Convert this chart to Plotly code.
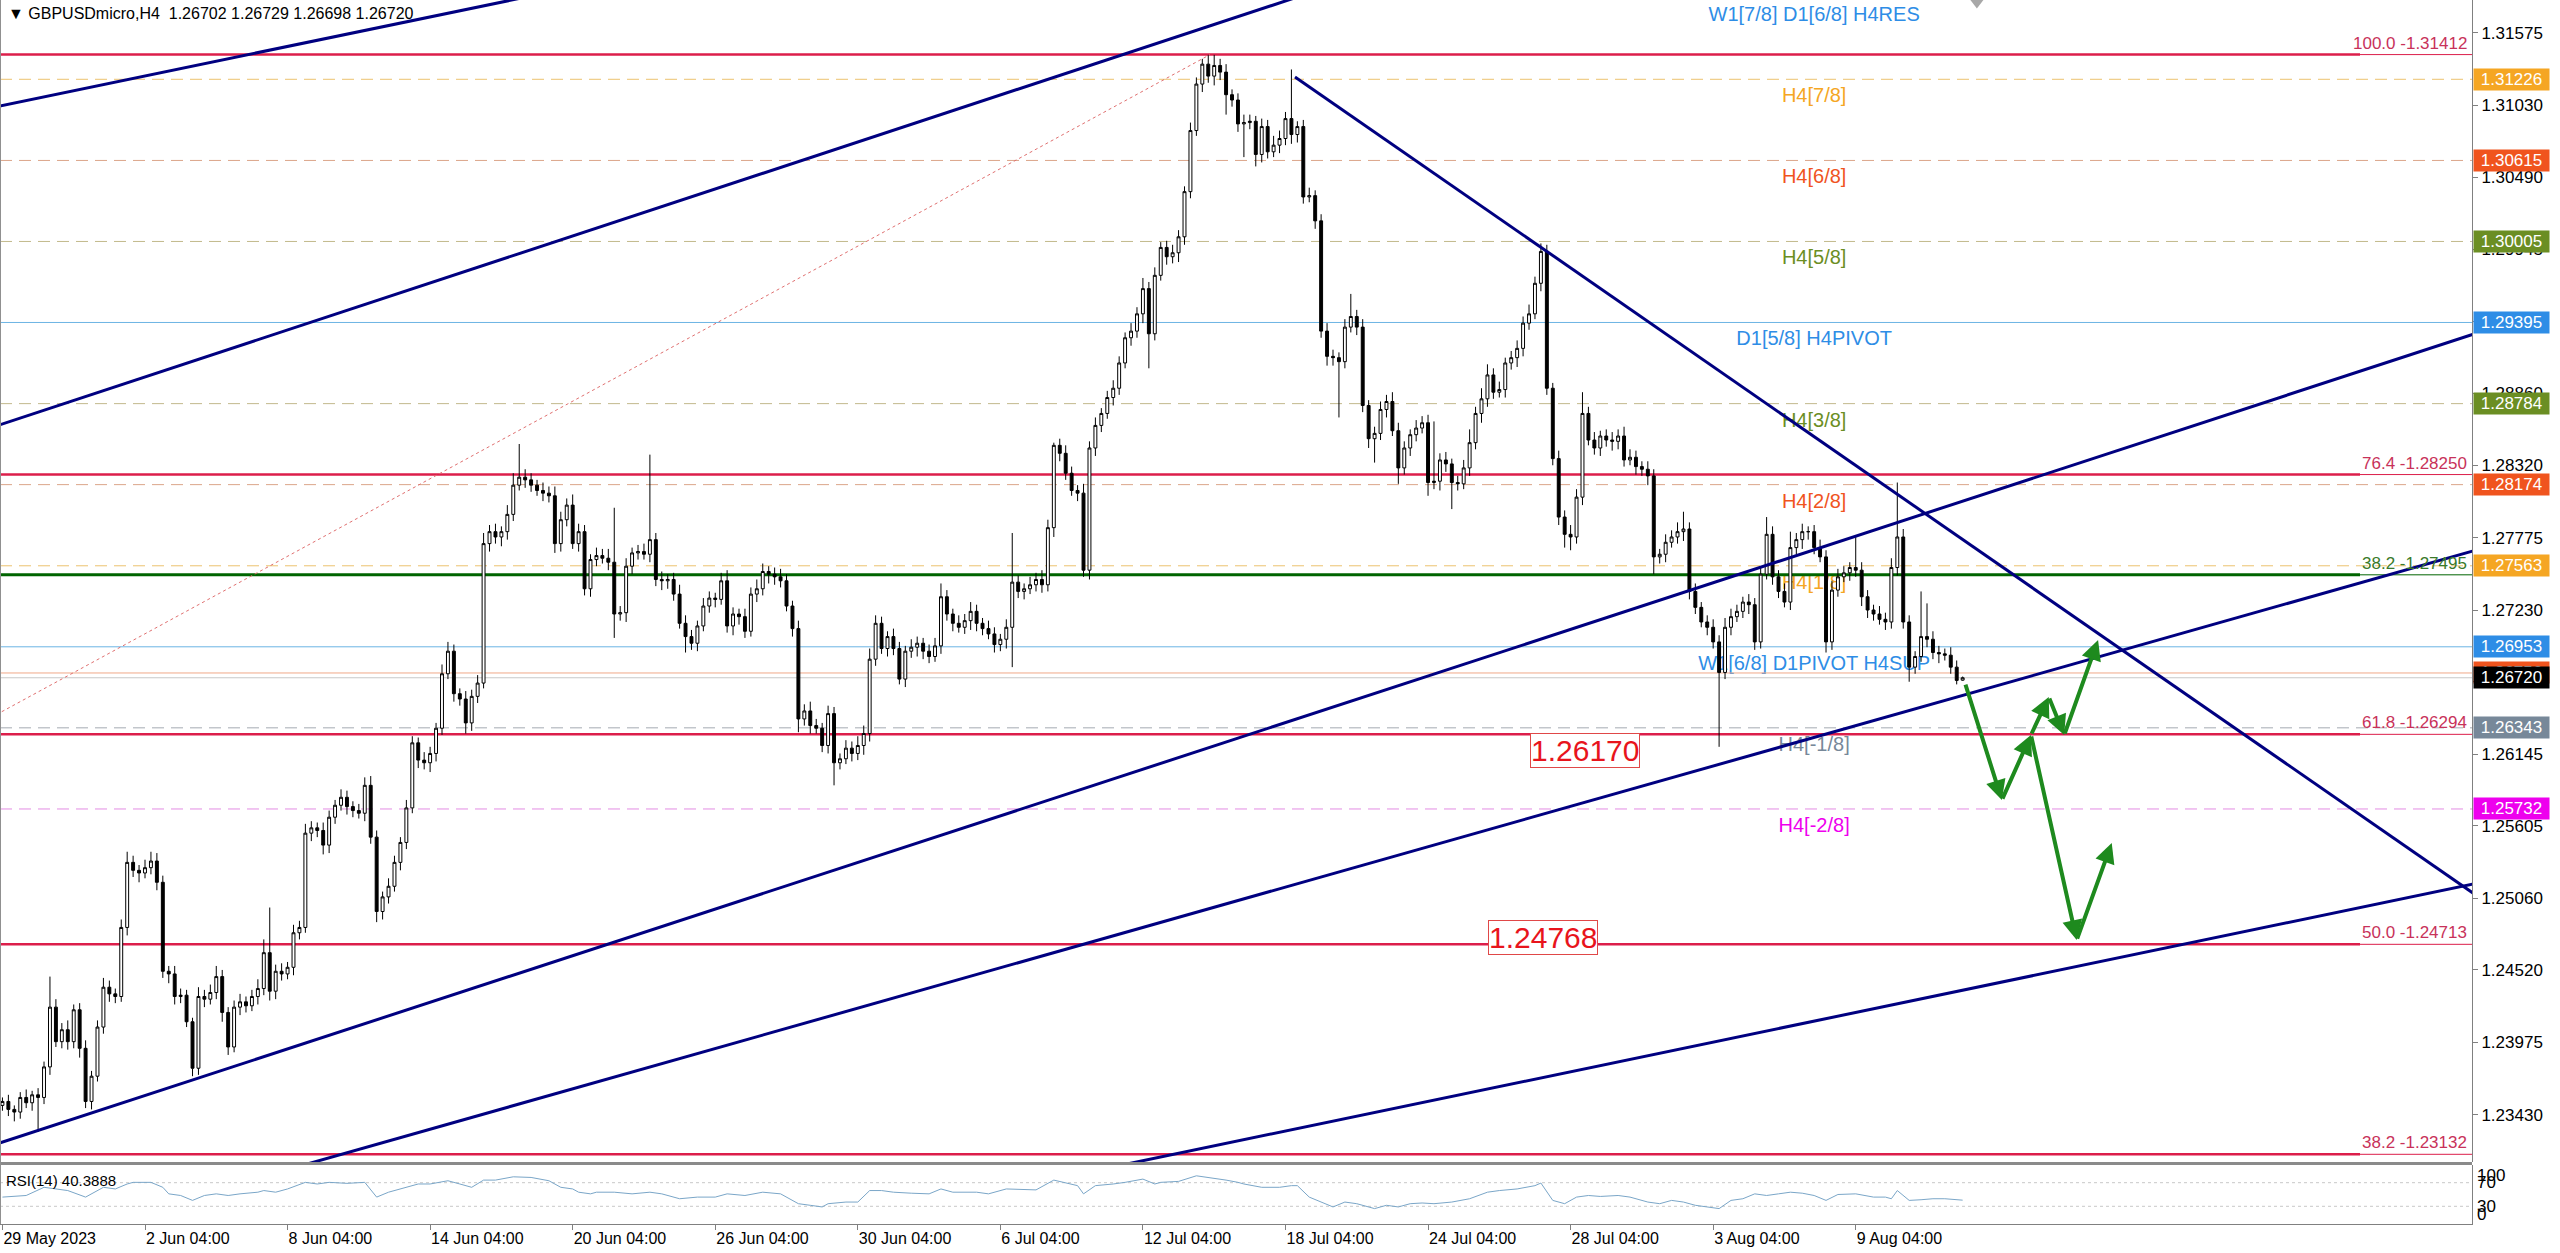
import plotly.graph_objects as go

FONT = "Liberation Sans, Arial, sans-serif"

# GBPUSDmicro H4, bar 0 = 29 May 2023 00:00; closes in pips (price * 10000)
first_open = 12345
close_pips = [
    12350, 12353, 12347, 12345, 12356, 12352, 12358, 12356, 12379, 12424, 12398, 12407, 12398, 12422, 12393, 12353, 12372, 12409, 12439, 12434,
    12432, 12484, 12533, 12527, 12525, 12529, 12534, 12518, 12451, 12449, 12432, 12433, 12413, 12378, 12432, 12430, 12435, 12447, 12420, 12394,
    12424, 12428, 12425, 12432, 12438, 12465, 12436, 12451, 12449, 12454, 12480, 12484, 12555, 12559, 12557, 12546, 12567, 12576, 12582, 12575,
    12572, 12570, 12591, 12552, 12496, 12507, 12515, 12533, 12548, 12574, 12623, 12610, 12608, 12615, 12634, 12675, 12692, 12660, 12656, 12638,
    12658, 12668, 12773, 12782, 12778, 12782, 12795, 12817, 12823, 12821, 12817, 12813, 12811, 12809, 12773, 12791, 12802, 12773, 12782, 12739,
    12761, 12764, 12762, 12759, 12720, 12721, 12756, 12766, 12767, 12765, 12776, 12746, 12745, 12746, 12735, 12713, 12703, 12698, 12711, 12726,
    12732, 12731, 12745, 12711, 12720, 12718, 12707, 12735, 12739, 12752, 12750, 12748, 12745, 12726, 12709, 12641, 12647, 12636, 12634, 12621,
    12645, 12608, 12611, 12619, 12615, 12621, 12630, 12686, 12713, 12694, 12703, 12694, 12671, 12692, 12695, 12698, 12692, 12688, 12696, 12733,
    12720, 12713, 12710, 12715, 12722, 12713, 12709, 12705, 12697, 12701, 12710, 12744, 12737, 12739, 12742, 12746, 12742, 12785, 12847, 12841,
    12826, 12813, 12811, 12753, 12845, 12862, 12871, 12883, 12890, 12909, 12928, 12933, 12946, 12965, 12931, 12975, 12996, 12989, 12992, 13004,
    13038, 13084, 13119, 13134, 13125, 13133, 13128, 13111, 13107, 13089, 13090, 13091, 13066, 13087, 13068, 13073, 13078, 13093, 13081, 13087,
    13034, 13035, 13016, 12933, 12914, 12913, 12910, 12936, 12944, 12936, 12877, 12852, 12856, 12874, 12880, 12858, 12830, 12845, 12855, 12860,
    12864, 12819, 12820, 12836, 12833, 12819, 12818, 12830, 12849, 12871, 12882, 12900, 12887, 12889, 12909, 12913, 12920, 12939, 12946, 12969,
    12993, 12890, 12837, 12793, 12780, 12778, 12808, 12871, 12851, 12845, 12854, 12851, 12850, 12854, 12836, 12838, 12831, 12829, 12824, 12763,
    12765, 12774, 12778, 12782, 12784, 12737, 12725, 12714, 12710, 12699, 12676, 12710, 12718, 12722, 12729, 12727, 12699, 12750, 12780, 12748,
    12737, 12729, 12770, 12776, 12782, 12782, 12770, 12763, 12699, 12738, 12748, 12751, 12755, 12753, 12733, 12723, 12720, 12716, 12714, 12755,
    12778, 12714, 12680, 12688, 12703, 12701, 12691, 12690, 12689, 12680, 12670,
]
# upper / lower shadow lengths in pips
wick_up = [
    4, 3, 5, 3, 4, 6, 3, 5, 4, 23, 6, 5, 7, 4, 5, 6, 4, 5, 7, 5,
    4, 6, 8, 5, 4, 6, 7, 6, 5, 4, 6, 5, 4, 3, 7, 5, 6, 8, 5, 4,
    5, 6, 4, 5, 7, 10, 34, 5, 6, 4, 6, 5, 7, 5, 4, 6, 5, 4, 6, 5,
    4, 5, 6, 7, 5, 4, 6, 5, 4, 6, 5, 4, 6, 5, 4, 7, 7, 5, 4, 6,
    5, 6, 8, 5, 6, 4, 7, 9, 25, 6, 5, 4, 6, 5, 7, 6, 5, 8, 6, 5,
    4, 6, 5, 7, 41, 5, 6, 4, 5, 6, 64, 5, 6, 4, 5, 7, 6, 5, 4, 6,
    5, 4, 6, 8, 5, 4, 6, 5, 7, 6, 4, 5, 6, 5, 4, 6, 5, 7, 5, 4,
    6, 5, 4, 6, 5, 7, 6, 8, 6, 5, 4, 6, 5, 4, 6, 5, 4, 5, 6, 10,
    5, 4, 6, 5, 7, 5, 4, 6, 5, 4, 6, 37, 5, 4, 6, 5, 7, 6, 2, 5,
    6, 5, 4, 7, 5, 6, 4, 5, 6, 5, 4, 6, 5, 8, 5, 6, 4, 5, 6, 5,
    4, 6, 5, 4, 7, 8, 5, 6, 4, 5, 6, 5, 4, 6, 5, 7, 6, 5, 37, 4,
    5, 6, 4, 5, 6, 5, 4, 6, 17, 5, 6, 4, 5, 6, 5, 7, 6, 5, 4, 6,
    5, 6, 45, 5, 6, 4, 5, 6, 10, 5, 8, 8, 5, 6, 4, 5, 6, 5, 7, 5,
    6, 5, 4, 6, 5, 7, 6, 16, 5, 6, 4, 5, 6, 5, 7, 6, 5, 4, 6, 5,
    4, 6, 5, 7, 13, 5, 6, 4, 5, 6, 5, 7, 6, 5, 4, 6, 5, 5, 13, 6,
    5, 6, 12, 5, 6, 4, 5, 6, 5, 7, 6, 5, 4, 23, 6, 5, 4, 6, 5, 7,
    41, 6, 5, 4, 34, 25, 6, 5, 4, 6, 5,
]
wick_dn = [
    6, 4, 5, 7, 5, 4, 6, 26, 5, 6, 4, 5, 6, 5, 7, 5, 6, 4, 5, 6,
    5, 4, 6, 5, 7, 4, 5, 6, 5, 7, 6, 5, 4, 6, 5, 6, 4, 5, 7, 6,
    4, 6, 5, 4, 6, 5, 7, 6, 5, 4, 6, 5, 4, 6, 5, 7, 6, 5, 4, 6,
    5, 4, 6, 5, 8, 6, 5, 4, 6, 5, 4, 6, 5, 7, 6, 5, 4, 6, 5, 8,
    6, 5, 4, 6, 5, 7, 6, 5, 4, 6, 5, 4, 6, 5, 7, 6, 5, 4, 6, 5,
    6, 5, 4, 6, 18, 5, 7, 6, 5, 4, 6, 5, 7, 6, 5, 4, 12, 5, 6, 4,
    5, 6, 4, 5, 7, 6, 5, 4, 6, 5, 7, 6, 5, 4, 6, 10, 5, 6, 4, 5,
    6, 17, 5, 4, 6, 5, 7, 6, 5, 4, 6, 5, 4, 6, 5, 7, 6, 5, 4, 6,
    5, 6, 4, 5, 7, 6, 5, 4, 6, 5, 7, 30, 5, 6, 4, 5, 6, 5, 7, 6,
    5, 4, 6, 5, 7, 6, 5, 4, 6, 5, 4, 6, 5, 7, 26, 5, 4, 6, 5, 7,
    6, 5, 4, 6, 5, 7, 6, 15, 5, 6, 25, 5, 9, 6, 5, 4, 6, 5, 7, 6,
    5, 4, 6, 5, 7, 6, 42, 5, 4, 6, 5, 7, 18, 5, 6, 4, 12, 5, 6, 5,
    4, 10, 5, 7, 6, 20, 5, 4, 6, 5, 7, 6, 5, 4, 6, 5, 7, 6, 5, 4,
    6, 5, 5, 6, 10, 10, 5, 6, 4, 5, 6, 5, 7, 6, 5, 4, 6, 5, 7, 13,
    5, 6, 4, 5, 7, 6, 5, 4, 6, 5, 56, 5, 6, 4, 5, 7, 6, 5, 4, 6,
    5, 4, 6, 5, 7, 6, 5, 4, 8, 6, 5, 4, 6, 5, 7, 6, 5, 4, 6, 5,
    6, 5, 11, 5, 4, 6, 5, 7, 4, 5, 3,
]
last_bar = (1.26702, 1.26729, 1.26698, 1.26720)  # O H L C of the live bar
bid = 1.26720

# RSI(14)
rsi_bar = [1, 5, 8, 10, 12, 15, 17, 18, 20, 22, 23, 26, 28, 29, 31, 33, 35, 37, 39, 41, 44, 45, 47, 49, 52, 54, 56, 59, 62, 64,
           66, 69, 71, 73, 76, 78, 80, 82, 84, 87, 90, 93, 95, 97, 98, 100, 101, 104, 107, 110, 112, 115, 118, 121, 123, 126, 129, 132, 135, 137,
           139, 140, 143, 145, 147, 149, 151, 154, 157, 159, 161, 165, 167, 170, 173, 175, 178, 181, 182, 183, 185, 188, 190, 193, 195, 196, 199, 202, 204, 207,
           209, 210, 213, 216, 218, 219, 221, 225, 227, 229, 232, 234, 236, 238, 240, 242, 245, 248, 251, 253, 256, 259, 260, 262, 264, 266, 268, 270, 273, 275,
           278, 280, 282, 284, 286, 288, 290, 292, 294, 296, 298, 300, 302, 304, 306, 308, 310, 313, 316, 318, 319, 320, 322, 324, 326, 328, 330, 331]
rsi_val = [45.6, 48.3, 62.2, 59.4, 56.7, 45.6, 56.7, 62.2, 59.4, 67.8, 70.6, 70.6, 62.2, 51.1, 48.3, 40.0, 48.3, 51.1, 48.3, 51.1, 53.9, 56.7, 53.9, 59.4, 70.6, 67.8, 70.6, 68.9, 70.6, 45.6,
           53.9, 62.2, 67.8, 67.8, 73.3, 67.8, 62.2, 74.4, 74.4, 80.0, 78.9, 73.3, 62.2, 59.4, 53.9, 51.1, 53.9, 53.9, 51.1, 53.9, 51.1, 42.8, 45.6, 45.6, 51.1, 48.3, 53.9, 51.1, 34.4, 31.7,
           28.9, 34.4, 37.2, 37.2, 56.7, 56.7, 53.9, 52.2, 51.1, 59.4, 53.9, 53.9, 51.1, 59.4, 57.8, 57.8, 74.4, 67.8, 65.0, 51.1, 65.0, 67.8, 70.6, 76.1, 67.8, 70.6, 72.2, 81.7, 78.9, 74.4,
           70.6, 67.8, 62.2, 62.2, 65.0, 65.0, 45.6, 28.9, 37.2, 34.4, 26.1, 31.7, 28.9, 34.4, 35.6, 34.4, 37.2, 42.8, 53.9, 56.7, 59.4, 65.0, 69.4, 40.0, 34.4, 45.6, 48.3, 46.7, 48.3, 45.6,
           37.2, 34.4, 40.0, 37.2, 31.7, 28.9, 26.1, 40.0, 42.8, 51.1, 48.3, 51.1, 53.9, 52.2, 48.3, 40.0, 50.0, 51.1, 45.6, 45.6, 42.8, 56.7, 40.0, 41.1, 42.8, 42.8, 41.1, 40.39]

# time axis labels (bar index of each label)
xtick_bars = [1, 25, 49, 73, 97, 121, 145, 169, 193, 217, 241, 265, 289, 313]
xtick_text = ["29 May 2023", "2 Jun 04:00", "8 Jun 04:00", "14 Jun 04:00", "20 Jun 04:00", "26 Jun 04:00",
              "30 Jun 04:00", "6 Jul 04:00", "12 Jul 04:00", "18 Jul 04:00", "24 Jul 04:00", "28 Jul 04:00",
              "3 Aug 04:00", "9 Aug 04:00"]
price_ticks = [1.31575, 1.31030, 1.30490, 1.29945, 1.29405, 1.28860, 1.28320, 1.27775,
               1.27230, 1.26690, 1.26145, 1.25605, 1.25060, 1.24520, 1.23975, 1.23430]

# Murrey math levels
murrey_levels = [1.31837, 1.31226, 1.30615, 1.30005, 1.29395, 1.28784, 1.28174, 1.27563, 1.26953, 1.26343, 1.25732]
murrey_names = ["W1[7/8] D1[6/8] H4RES", "H4[7/8]", "H4[6/8]", "H4[5/8]", "D1[5/8] H4PIVOT", "H4[3/8]",
                "H4[2/8]", "H4[1/8]", "W1[6/8] D1PIVOT H4SUP", "H4[-1/8]", "H4[-2/8]"]
murrey_colors = ["#2e8de6", "#f5a623", "#f0541e", "#6b8e23", "#2e8de6", "#6b8e23",
                 "#f0541e", "#f5a623", "#2e8de6", "#778899", "#ee00ee"]
murrey_line_colors = ["#6cb4e4", "#ecc26e", "#dba58a", "#c2b98c", "#6cb4e4", "#c2b98c",
                      "#dba58a", "#ecc26e", "#6cb4e4", "#a4aab2", "#e38de3"]
murrey_solid = [True, False, False, False, True, False, False, False, True, False, False]

# Fibonacci levels
fib_levels = [1.31412, 1.28250, 1.26294, 1.24713, 1.23132]
fib_names = ["100.0", "76.4", "61.8", "50.0", "38.2"]
fib_green_level = 1.27495
fib_green_name = "38.2"

# trend channels: (bar0, price0, bar1, price1)
trend_lines = [
    (0, 1.31020, 120, 1.32131),
    (0, 1.28616, 240, 1.32155),
    (0, 1.23209, 420, 1.29351),
    (40, 1.22903, 420, 1.27714),
    (180, 1.22963, 420, 1.25195),
    (218.6, 1.31244, 420, 1.25003),
]
fib_dotted = (0, 1.26443, 204.3, 1.31412)

# forecast arrows: tail -> head
arrow_tail = [(331.4, 1.26680), (337.6, 1.25799), (342.5, 1.26289), (345.5, 1.26575), (348.1, 1.26289), (342.5, 1.26289), (350.2, 1.24745)]
arrow_head = [(337.6, 1.25799), (342.5, 1.26289), (345.5, 1.26575), (348.1, 1.26289), (353.8, 1.27004), (350.2, 1.24745), (356.1, 1.25476)]

price_notes = [(267.4, 1.26170), (260.4, 1.24768)]
salmon_level = 1.26756

X_RANGE = [0.59, 416.75]
Y_RANGE = [1.23074, 1.31823]

closes = [c / 10000 for c in close_pips]
opens = [first_open / 10000] + closes[:-1]
highs = [max(o, c) + w / 10000 for o, c, w in zip(opens, closes, wick_up)]
lows = [min(o, c) - w / 10000 for o, c, w in zip(opens, closes, wick_dn)]
opens.append(last_bar[0]); highs.append(last_bar[1]); lows.append(last_bar[2]); closes.append(last_bar[3])
bars = list(range(len(closes)))

fig = go.Figure()

fig.add_trace(go.Candlestick(
    x=bars, open=opens, high=highs, low=lows, close=closes,
    increasing=dict(line=dict(color="black", width=1), fillcolor="white"),
    decreasing=dict(line=dict(color="black", width=1), fillcolor="black"),
    whiskerwidth=0, yaxis="y", xaxis="x",
))

# trend lines
for b0, p0, b1, p1 in trend_lines:
    fig.add_trace(go.Scatter(x=[b0, b1], y=[p0, p1], mode="lines",
                             line=dict(color="#000080", width=3), hoverinfo="skip"))
fig.add_trace(go.Scatter(x=[fib_dotted[0], fib_dotted[2]], y=[fib_dotted[1], fib_dotted[3]], mode="lines",
                         line=dict(color="#e07070", width=1, dash="dot"), hoverinfo="skip"))

# small grey marker at the top
fig.add_trace(go.Scatter(x=[333.4], y=[1.31812], mode="markers",
                         marker=dict(symbol="triangle-down", size=14, color="#a8a8a8"), hoverinfo="skip"))

# RSI
fig.add_trace(go.Scatter(x=rsi_bar, y=rsi_val, mode="lines", yaxis="y2",
                         line=dict(color="#7aa6c8", width=1), hoverinfo="skip"))

shapes = []
# murrey lines + texts (below candles)
for lvl, name, col, lcol, solid in zip(murrey_levels, murrey_names, murrey_colors, murrey_line_colors, murrey_solid):
    shapes.append(dict(type="line", xref="x", yref="y", x0=X_RANGE[0], x1=X_RANGE[1], y0=lvl, y1=lvl,
                       line=dict(color=lcol, width=1, dash="solid" if solid else "12px,7px"), layer="below"))
    shapes.append(dict(type="line", xref="x", yref="y", x0=290, x1=322, y0=lvl, y1=lvl,
                       line=dict(color="rgba(0,0,0,0)", width=1), layer="below",
                       label=dict(text=name, textposition="middle", yanchor="top", padding=3,
                                  font=dict(family=FONT, size=20, color=col))))
shapes.append(dict(type="line", xref="x", yref="y", x0=X_RANGE[0], x1=X_RANGE[1], y0=salmon_level, y1=salmon_level,
                   line=dict(color="#f0a888", width=1), layer="below"))
shapes.append(dict(type="line", xref="x", yref="y", x0=X_RANGE[0], x1=X_RANGE[1], y0=bid, y1=bid,
                   line=dict(color="#c8c8c8", width=1), layer="below"))
# fibonacci lines
split_bar = 397.9
for lvl in fib_levels:
    shapes.append(dict(type="line", xref="x", yref="y", x0=X_RANGE[0], x1=split_bar, y0=lvl, y1=lvl,
                       line=dict(color="#dc1e4a", width=2.5), layer="below"))
    shapes.append(dict(type="line", xref="x", yref="y", x0=split_bar, x1=X_RANGE[1], y0=lvl, y1=lvl,
                       line=dict(color="#dc1e4a", width=1), layer="below"))
shapes.append(dict(type="line", xref="x", yref="y", x0=X_RANGE[0], x1=split_bar, y0=fib_green_level, y1=fib_green_level,
                   line=dict(color="#006400", width=3), layer="below"))
shapes.append(dict(type="line", xref="x", yref="y", x0=split_bar, x1=X_RANGE[1], y0=fib_green_level, y1=fib_green_level,
                   line=dict(color="#006400", width=1), layer="below"))
# RSI levels
for lv in (70, 30):
    shapes.append(dict(type="line", xref="x", yref="y2", x0=X_RANGE[0], x1=X_RANGE[1], y0=lv, y1=lv,
                       line=dict(color="#c8c8c8", width=1, dash="dot"), layer="below"))
# panel separator and left border
shapes.append(dict(type="rect", xref="paper", yref="paper", x0=0, x1=1, y0=0.0482, y1=0.0507,
                   fillcolor="#8a8a8a", line=dict(width=0)))
shapes.append(dict(type="line", xref="paper", yref="paper", x0=0, x1=0, y0=0, y1=1,
                   line=dict(color="#909090", width=2)))

ann = []
ann.append(dict(xref="paper", yref="paper", x=0, y=1, xanchor="left", yanchor="top", xshift=6, yshift=-3,
                text="\u25bc GBPUSDmicro,H4\u00a0\u00a01.26702 1.26729 1.26698 1.26720", showarrow=False,
                font=dict(family=FONT, size=16, color="black")))
ann.append(dict(xref="paper", yref="paper", x=0, y=0.0482, xanchor="left", yanchor="top", xshift=4, yshift=-5,
                text="RSI(14) 40.3888", showarrow=False, font=dict(family=FONT, size=15, color="black")))
# fib labels
for lvl, name in zip(fib_levels, fib_names):
    ann.append(dict(xref="paper", yref="y", x=1, y=lvl, xanchor="right", yanchor="bottom", xshift=-3, yshift=0,
                    text=f"{name} -{lvl:.5f}", showarrow=False, font=dict(family=FONT, size=17, color="#c8325a")))
ann.append(dict(xref="paper", yref="y", x=1, y=fib_green_level, xanchor="right", yanchor="bottom", xshift=-3,
                text=f"{fib_green_name} -{fib_green_level:.5f}", showarrow=False,
                font=dict(family=FONT, size=17, color="#3a7a2a")))
# price boxes on the right scale
for lvl, col in zip(murrey_levels[1:], murrey_colors[1:]):
    ann.append(dict(xref="paper", yref="y", x=1, y=lvl, xanchor="left", yanchor="middle", xshift=1,
                    text=f"{lvl:.5f}", showarrow=False, bgcolor=col, width=73, height=19, borderpad=1,
                    font=dict(family=FONT, size=17, color="white")))
ann.append(dict(xref="paper", yref="y", x=1, y=salmon_level, xanchor="left", yanchor="middle", xshift=1,
                text=f"{salmon_level:.5f}", showarrow=False, bgcolor="#f0541e", width=73, height=19, borderpad=1,
                font=dict(family=FONT, size=17, color="white")))
ann.append(dict(xref="paper", yref="y", x=1, y=bid, xanchor="left", yanchor="middle", xshift=1,
                text=f"{bid:.5f}", showarrow=False, bgcolor="#000000", width=73, height=19, borderpad=1,
                font=dict(family=FONT, size=17, color="white")))
# RSI scale labels
for lv, shift in ((100, -11), (70, 0), (30, 0), (0, 9)):
    ann.append(dict(xref="paper", yref="y2", x=1, y=lv, xanchor="left", yanchor="middle", xshift=3, yshift=shift,
                    text=str(lv), showarrow=False, font=dict(family=FONT, size=17, color="black")))
# boxed price notes
for b, p in price_notes:
    ann.append(dict(xref="x", yref="y", x=b, y=p, text=f"{p:.5f}", showarrow=False, bgcolor="white",
                    bordercolor="#e04848", borderwidth=1, borderpad=0,
                    font=dict(family=FONT, size=30, color="#e8141c")))
# forecast arrows
for (tb, tp), (hb, hp) in zip(arrow_tail, arrow_head):
    ann.append(dict(xref="x", yref="y", axref="x", ayref="y", x=hb, y=hp, ax=tb, ay=tp, text="",
                    showarrow=True, arrowhead=2, arrowsize=1, arrowwidth=4, arrowcolor="#1e8a1e"))

fig.update_layout(
    width=2560, height=1253,
    margin=dict(l=0, r=88, t=0, b=29),
    plot_bgcolor="white", paper_bgcolor="white",
    showlegend=False,
    shapes=shapes, annotations=ann,
    font=dict(family=FONT, size=16, color="black"),
    xaxis=dict(range=X_RANGE, anchor="y2", showgrid=False, zeroline=False, rangeslider=dict(visible=False),
               tickvals=xtick_bars, ticktext=xtick_text, ticks="outside", ticklen=5, tickcolor="#808080",
               ticklabelposition="outside right", tickfont=dict(family=FONT, size=16, color="black"),
               showline=True, linecolor="#808080", linewidth=1),
    yaxis=dict(domain=[0.050654, 1], range=Y_RANGE, side="right", anchor="x", showgrid=False, zeroline=False,
               tickvals=price_ticks, ticktext=[f"{v:.5f}" for v in price_ticks], ticks="outside", ticklen=5,
               tickcolor="#808080", tickfont=dict(family=FONT, size=17, color="black"),
               showline=True, linecolor="#808080", linewidth=1),
    yaxis2=dict(domain=[0, 0.048203], range=[0, 100], side="right", anchor="x", showgrid=False, zeroline=False,
                showticklabels=False, ticks="", showline=True, linecolor="#808080", linewidth=1),
)

fig.write_html("out.html", config={"displayModeBar": False},
               post_script="document.body.style.margin='0';")
